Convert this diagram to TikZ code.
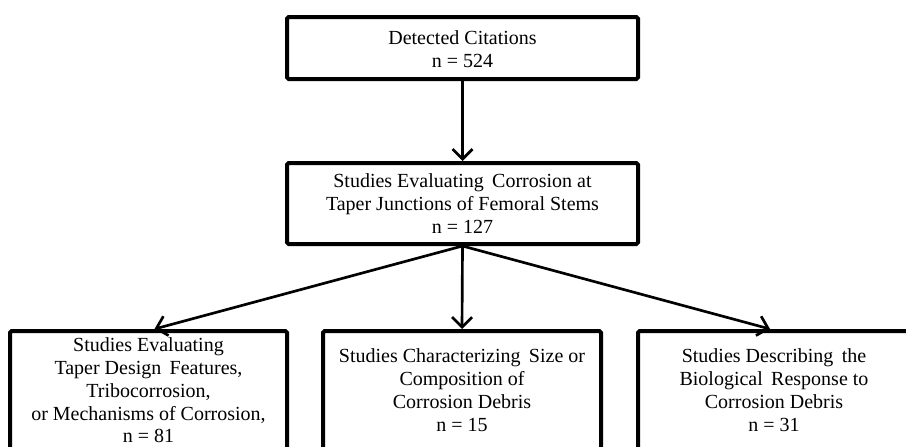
\documentclass[tikz,border=0pt]{standalone}
\usepackage{fontspec}
\setmainfont{Liberation Serif}
\usetikzlibrary{arrows.meta}
\begin{document}
\begin{tikzpicture}[x=0.75pt,y=-0.75pt,
  box/.style={draw=black,line width=3pt,rounded corners=1.2pt,inner sep=0pt,fill=white},
  txt/.style={align=center,inner sep=0pt,font=\fontsize{15}{17.1}\selectfont},
  conn/.style={line width=2pt,-{Straight Barb[length=7.5pt,width=15pt,line width=2pt]}}]
\useasboundingbox (0,0) rectangle (906,446);
\clip (0,0) rectangle (906,446);
\fill[white] (0,0) rectangle (906,446);
% top
\node[box,minimum width=263.25pt,minimum height=46.5pt] (top) at (462.5,48) {};
\node[txt] (toptxt) at (462.5,49) {Detected Citations\\n = 524};
% middle
\node[box,minimum width=263.25pt,minimum height=60.75pt] (mid) at (462.5,203.5) {};
\node[txt] (midtxt) at (462.5,203.5) {Studies Evaluating\, Corrosion at\\Taper Junctions of Femoral Stems\\n = 127};
% bottom
\node[box,anchor=north,minimum width=207.75pt,minimum height=112pt] (b1) at (148.5,329) {};
\node[txt] (b1txt) at (148.5,390.5) {Studies Evaluating\\Taper Design\, Features,\\Tribocorrosion,\\or Mechanisms of Corrosion,\\n = 81};
\node[box,anchor=north,minimum width=208.5pt,minimum height=112pt] (b2) at (462,329) {};
\node[txt] (b2txt) at (462,390) {Studies Characterizing\, Size or\\Composition of\\Corrosion Debris\\n = 15};
\node[box,anchor=north,minimum width=204pt,minimum height=112pt] (b3) at (774,329) {};
\node[txt] (b3txt) at (774,390) {Studies Describing\, the\\Biological\, Response to\\Corrosion Debris\\n = 31};
% connectors
\draw[conn] (top.south) -- (mid.north);
\coordinate (src) at (mid.south);
\draw[conn] (src) -- ([xshift=4.5pt]b1.north);
\draw[conn] (src) -- (b2.north);
\draw[conn] (src) -- ([xshift=-3pt]b3.north);
\end{tikzpicture}
\end{document}
